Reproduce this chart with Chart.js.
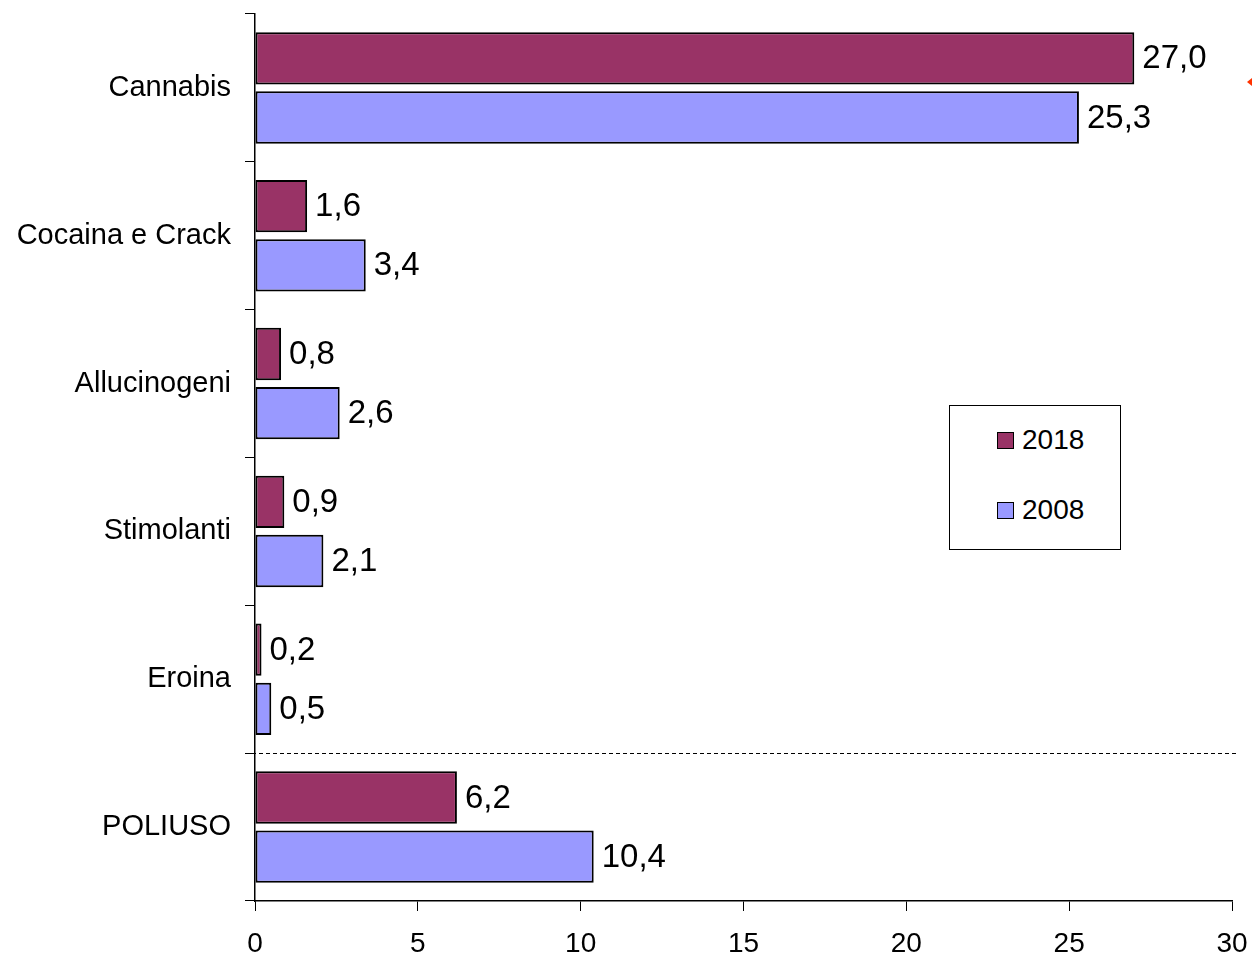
<!DOCTYPE html>
<html>
<head>
<meta charset="utf-8">
<script src="https://cdn.jsdelivr.net/npm/chart.js@4.4.1/dist/chart.umd.min.js"></script>
<style>
  html, body { margin:0; padding:0; background:#fff; }
  #wrap { position:relative; width:1252px; height:955px; }
  #legend {
    position:absolute; left:949px; top:405px; width:170px; height:143px;
    border:1px solid #000; background:#fff;
    font-family:"Liberation Sans", Arial, sans-serif; font-size:28px; color:#000;
  }
  #legend .item { position:absolute; left:47px; display:flex; align-items:center; }
  #legend .sw { width:15px; height:15px; border:1.5px solid #000; margin-right:8px; }
</style>
</head>
<body>
<div id="wrap">
  <canvas id="c" width="1252" height="955"></canvas>
  <div id="legend"></div>
</div>
<script>
const categorie = ['Cannabis', 'Cocaina e Crack', 'Allucinogeni', 'Stimolanti', 'Eroina', 'POLIUSO'];
const anni = ['2018', '2008'];
const valori2018 = [27.0, 1.6, 0.8, 0.9, 0.2, 6.2];
const valori2008 = [25.3, 3.4, 2.6, 2.1, 0.5, 10.4];
const colori = ['#993366', '#9999FF'];
const tickX = [0, 5, 10, 15, 20, 25, 30];

const FONT = '"Liberation Sans", Arial, sans-serif';

// etichette valori a destra delle barre
const etichette = {
  id: 'etichette',
  afterDatasetsDraw(chart) {
    const ctx = chart.ctx;
    ctx.save();
    ctx.font = '33px ' + FONT;
    ctx.fillStyle = '#000';
    ctx.textBaseline = 'middle';
    ctx.textAlign = 'left';
    chart.data.datasets.forEach((ds, i) => {
      chart.getDatasetMeta(i).data.forEach((bar, j) => {
        ctx.fillText(ds.data[j].toFixed(1).replace('.', ','), bar.x + 8, bar.y + 1);
      });
    });
    ctx.restore();
  }
};

// linea tratteggiata prima di POLIUSO + segnetto rosso sul bordo
const separatore = {
  id: 'separatore',
  afterDraw(chart) {
    const y = chart.scales.y;
    const py = (y.getPixelForValue(4) + y.getPixelForValue(5)) / 2;
    const ctx = chart.ctx;
    ctx.save();
    ctx.strokeStyle = '#000';
    ctx.lineWidth = 1;
    ctx.setLineDash([4, 3]);
    ctx.beginPath();
    ctx.moveTo(245, Math.round(py) + 0.5);
    ctx.lineTo(1236, Math.round(py) + 0.5);
    ctx.stroke();
    ctx.fillStyle = '#ff3300';
    ctx.beginPath();
    ctx.moveTo(1247, 82);
    ctx.lineTo(1252, 78);
    ctx.lineTo(1252, 86);
    ctx.closePath();
    ctx.fill();
    ctx.restore();
  }
};

new Chart(document.getElementById('c'), {
  type: 'bar',
  data: {
    labels: categorie,
    datasets: [
      { label: anni[0], data: valori2018, backgroundColor: colori[0], borderColor: '#000', borderWidth: 2, borderSkipped: false },
      { label: anni[1], data: valori2008, backgroundColor: colori[1], borderColor: '#000', borderWidth: 2, borderSkipped: false }
    ]
  },
  options: {
    indexAxis: 'y',
    responsive: false,
    animation: false,
    categoryPercentage: 0.8,
    barPercentage: 0.885,
    layout: { autoPadding: false, padding: { top: 14, right: 20, left: 0, bottom: 0 } },
    plugins: { legend: { display: false }, tooltip: { enabled: false } },
    scales: {
      x: {
        min: 0, max: 30,
        afterBuildTicks: s => { s.ticks = tickX.map(v => ({ value: v })); },
        grid: { drawOnChartArea: false, tickLength: 10, color: '#000' },
        border: { color: '#000', width: 1.5 },
        ticks: { font: { family: FONT, size: 28 }, color: '#000', padding: 16, maxRotation: 0 },
        afterFit: s => { s.height = 54; s.paddingLeft = 0; s.paddingRight = 0; }
      },
      y: {
        grid: { drawOnChartArea: false, tickLength: 10, color: '#000', offset: true },
        border: { color: '#000', width: 1.5 },
        ticks: { font: { family: FONT, size: 29 }, color: '#000', padding: 14 },
        afterFit: s => { s.width = 255; s.paddingTop = 0; s.paddingBottom = 0; }
      }
    }
  },
  plugins: [etichette, separatore]
});

document.getElementById('legend').innerHTML = anni.map((a, i) =>
  `<div class="item" style="top:${i === 0 ? 18 : 88}px"><div class="sw" style="background:${colori[i]}"></div>${a}</div>`
).join('');
</script>
</body>
</html>
